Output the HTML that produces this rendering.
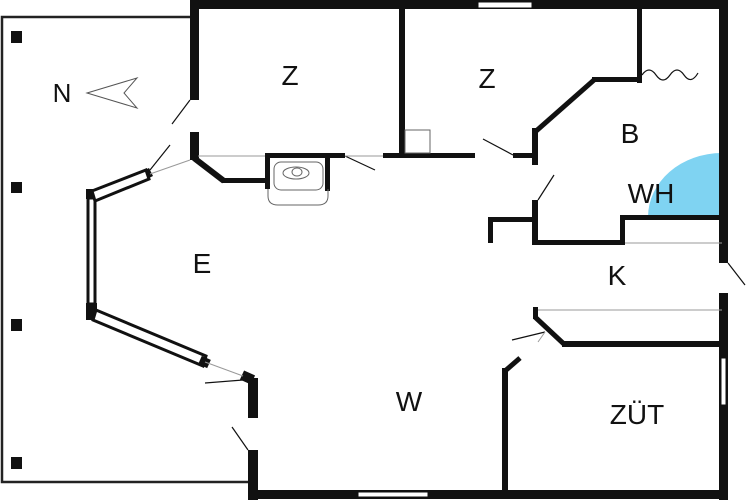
<!DOCTYPE html>
<html><head><meta charset="utf-8"><style>html,body{margin:0;padding:0;background:#fff}svg{display:block}</style></head>
<body>
<svg width="750" height="500" viewBox="0 0 750 500" xmlns="http://www.w3.org/2000/svg" font-family="Liberation Sans, sans-serif">
<rect width="750" height="500" fill="#fff"/>
<polyline points="190,17 2,17 2,482 250,482" fill="none" stroke="#222" stroke-width="2.5"/>
<rect x="11" y="31" width="11" height="12" fill="#111"/>
<rect x="11" y="182" width="11" height="11" fill="#111"/>
<rect x="11" y="319" width="11" height="12" fill="#111"/>
<rect x="11" y="457" width="11" height="12" fill="#111"/>
<text x="62" y="102" font-size="26" text-anchor="middle" fill="#111">N</text>
<polygon points="87,93 137,78 124,93 137,108" fill="none" stroke="#555" stroke-width="1"/>
<path d="M722,217 L648,217 A74,64 0 0 1 722,153 Z" fill="#7fd3f2"/>
<g fill="#111">
<rect x="190" y="0" width="537" height="9"/>
<rect x="719" y="0" width="9" height="263"/>
<rect x="719" y="293" width="9" height="207"/>
<rect x="248" y="490" width="480" height="9"/>
<rect x="190" y="0" width="9" height="100"/>
<rect x="190" y="132" width="9" height="28"/>
<rect x="248" y="378" width="10" height="40"/>
<rect x="248" y="450" width="10" height="50"/>
<rect x="86" y="303" width="11" height="17"/>
<rect x="86" y="189" width="11" height="10"/>
<rect x="399" y="8" width="6" height="150"/>
<rect x="383" y="153" width="92" height="5"/>
<rect x="513" y="153" width="25" height="5"/>
<rect x="532" y="128" width="6" height="37"/>
<rect x="532" y="200" width="6" height="45"/>
<rect x="532" y="240" width="93" height="5"/>
<rect x="620" y="215" width="5" height="30"/>
<rect x="620" y="215" width="102" height="5"/>
<rect x="637" y="8" width="5" height="75"/>
<rect x="592" y="77" width="50" height="5"/>
<rect x="488" y="217" width="48" height="5"/>
<rect x="488" y="217" width="5" height="26"/>
<rect x="533" y="307" width="5" height="12"/>
<rect x="562" y="341" width="160" height="6"/>
<rect x="502" y="368" width="6" height="125"/>
<rect x="265" y="153" width="80" height="5"/>
<rect x="265" y="153" width="5" height="36"/>
<rect x="325" y="153" width="5" height="38"/>
<rect x="222" y="178" width="46" height="5"/>
</g>
<g fill="none" stroke="#111">
<polyline points="535,132 594,80" stroke-width="5"/>
<polyline points="535,317 565,345" stroke-width="5"/>
<polyline points="505,371 520,358" stroke-width="5"/>
<polyline points="194,158 224,181" stroke-width="6"/>
<rect x="88" y="198" width="7" height="106" stroke-width="3" fill="#fff"/>
<polygon points="92,191 146,170 149,179 95,201" stroke-width="3" fill="#fff"/>
<polygon points="96,310 206,356 203,366 93,320" stroke-width="3" fill="#fff"/>
<polyline points="147,174 151,172" stroke-width="9"/>
<polyline points="200,360 209,364" stroke-width="9"/>
<polyline points="242,375 253,380" stroke-width="10"/>
</g>
<g stroke="#111" stroke-width="1.2" fill="none">
<rect x="478" y="2" width="54" height="6" fill="#fff" stroke-width="1"/>
<rect x="358" y="492" width="70" height="5" fill="#fff" stroke-width="1"/>
<rect x="721" y="358" width="5" height="47" fill="#fff" stroke-width="1"/>
<line x1="172" y1="124" x2="190" y2="100"/>
<line x1="150" y1="170" x2="170" y2="145"/>
<line x1="205" y1="383" x2="243" y2="380"/>
<line x1="232" y1="427" x2="248" y2="450"/>
<line x1="345" y1="156" x2="375" y2="170"/>
<line x1="483" y1="139" x2="513" y2="155"/>
<line x1="538" y1="200" x2="554" y2="175"/>
<line x1="512" y1="340" x2="545" y2="332"/>
<line x1="728" y1="263" x2="745" y2="285"/>
<path d="M642,75 q7,-10 14,0 q7,10 14,0 q7,-10 14,0 q7,10 14,-2"/>
</g>
<g stroke="#999" stroke-width="1" fill="none">
<line x1="198" y1="156" x2="265" y2="156"/>
<line x1="345" y1="156" x2="383" y2="156"/>
<line x1="538" y1="310" x2="722" y2="310"/>
<line x1="625" y1="243" x2="722" y2="243"/>
<line x1="538" y1="342" x2="545" y2="332"/>
<line x1="150" y1="174" x2="190" y2="160"/>
<line x1="205" y1="362" x2="243" y2="376"/>
<rect x="405" y="130" width="25" height="23" stroke="#666"/>
<rect x="274" y="162" width="49" height="28" rx="7" stroke="#666"/>
<ellipse cx="296" cy="173" rx="13" ry="6" stroke="#666"/>
<ellipse cx="297" cy="172" rx="5" ry="4" stroke="#666"/>
<path d="M268,189 L268,196 Q268,205 278,205 L318,205 Q328,205 328,196 L328,189" stroke="#666"/>
</g>
<g font-size="28" fill="#111" text-anchor="middle">
<text x="290" y="85">Z</text>
<text x="487" y="88">Z</text>
<text x="630" y="143">B</text>
<text x="651" y="203">WH</text>
<text x="202" y="273">E</text>
<text x="617" y="285">K</text>
<text x="409" y="411">W</text>
<text x="637" y="424">ZÜT</text>
</g>
</svg>
</body></html>
